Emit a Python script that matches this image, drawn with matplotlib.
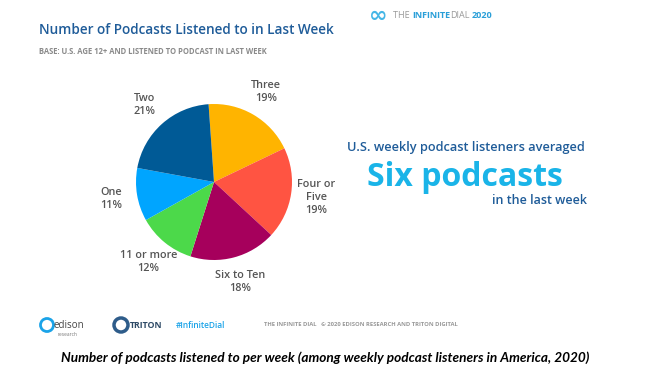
import matplotlib.pyplot as plt
from matplotlib.patches import Ellipse

# slice data, clockwise from the top
categories = ["Three", "Four or\nFive", "Six to Ten", "11 or more", "One", "Two"]
shares = [19, 19, 18, 12, 11, 21]
colors = ["#FFB400", "#FF5442", "#A6005C", "#4CD94A", "#00A5FF", "#005A96"]

W, H = 658, 386
fig = plt.figure(figsize=(W / 100, H / 100), dpi=100)
fig.patch.set_facecolor("white")

def fx(x):
    return x / W

def fy(y):
    return 1 - y / H

font = "Open Sans"
dark_blue = "#1F5C99"
light_blue = "#1AB4E8"
gray = "#555555"

# pie
cx, cy, r = 214, 182, 78
ax = fig.add_axes([fx(cx - r), fy(cy + r), 2 * r / W, 2 * r / H])
labels = [f"{c}\n{s}%" for c, s in zip(categories, shares)]
wedges, texts = ax.pie(shares, colors=colors, startangle=94, counterclock=False,
                       labels=labels, labeldistance=1.33,
                       textprops=dict(fontsize=7.8, color=gray, family=font,
                                      fontweight="semibold", ha="center",
                                      va="center", linespacing=1.25))
for t in texts:
    t.set_ha("center")
ax.set_xlim(-1, 1)
ax.set_ylim(-1, 1)
ax.set_aspect("equal")
ax.axis("off")

# header
fig.text(fx(39), fy(30), "Number of Podcasts Listened to in Last Week", fontsize=9.8,
         color=dark_blue, family=font, fontweight="semibold", va="center")
fig.text(fx(39), fy(51), "BASE: U.S. AGE 12+ AND LISTENED TO PODCAST IN LAST WEEK",
         fontsize=5.5, color="#8A8A8A", family=font, fontweight="bold", va="center")

# top-right brand
fig.text(fx(369), fy(16), "∞", fontsize=16, color="#45B6E6", family="DejaVu Sans",
         va="center", fontweight="bold")
fig.text(fx(393), fy(16), "THE ", fontsize=6.5, color="#999999", family=font, va="center")
fig.text(fx(412), fy(16), "INFINITE", fontsize=6.5, color="#2A9FD8", family=font,
         fontweight="bold", va="center")
fig.text(fx(450), fy(16), "DIAL", fontsize=6.5, color="#999999", family=font, va="center")
fig.text(fx(472), fy(16), "2020", fontsize=6.5, color="#2A9FD8", family=font,
         fontweight="bold", va="center")

# callout
fig.text(fx(466), fy(148), "U.S. weekly podcast listeners averaged", fontsize=9.2,
         color=dark_blue, family=font, fontweight="semibold", ha="center", va="center")
fig.text(fx(465), fy(177), "Six podcasts", fontsize=23, color=light_blue, family=font,
         fontweight="bold", ha="center", va="center")
fig.text(fx(540), fy(201), "in the last week", fontsize=9, color=dark_blue, family=font,
         fontweight="semibold", ha="center", va="center")

# footer logos
fig.text(fx(54), fy(325), "edison", fontsize=7, color="#444444", family=font, va="center")
fig.text(fx(58), fy(334), "research", fontsize=3.5, color="#777777", family=font, va="center")
fig.patches.append(Ellipse((fx(47), fy(325)), 13 / W, 13 / H, transform=fig.transFigure,
                           fill=False, ec="#1AA3E8", lw=2))
fig.patches.append(Ellipse((fx(121), fy(325)), 14 / W, 14 / H, transform=fig.transFigure,
                           fill=False, ec="#2E5C8A", lw=2.5))
fig.text(fx(130), fy(325), "TRITON", fontsize=6.3, color="#2E4A66", family=font,
         fontweight="bold", va="center")
fig.text(fx(176), fy(325), "#InfiniteDial", fontsize=6.0, color="#1AA3E8", family=font,
         fontweight="semibold", va="center")
fig.text(fx(264), fy(325), "THE INFINITE DIAL   © 2020 EDISON RESEARCH AND TRITON DIGITAL",
         fontsize=4.2, color="#999999", family=font, fontweight="bold", va="center")

# caption
fig.text(fx(325), fy(358),
         "Number of podcasts listened to per week (among weekly podcast listeners in America, 2020)",
         fontsize=9.8, color="black", family="Lato", fontweight="bold", style="italic",
         ha="center", va="center")

fig.savefig("out.png", dpi=100)
